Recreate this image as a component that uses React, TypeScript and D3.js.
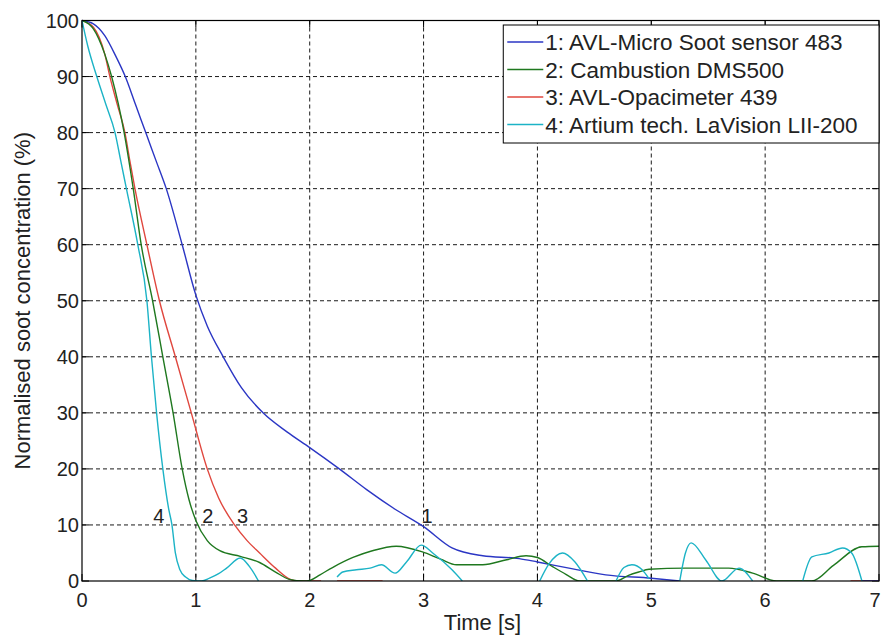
import React from 'react'
import * as d3 from 'd3'

const W = 882
const H = 638
const margin = { top: 20.5, right: 3, bottom: 57, left: 82 }

type Pt = [number, number | null]

// 1: AVL-Micro Soot sensor 483
const microSoot: Pt[] = [
  [0, 100], [0.1, 99.4], [0.2, 97.3], [0.3, 93.5], [0.38, 90], [0.47, 85], [0.56, 80],
  [0.65, 75], [0.74, 70], [0.88, 60], [1.0, 51], [1.1, 45.5], [1.24, 40], [1.4, 34.5],
  [1.59, 30], [1.8, 26.6], [2.0, 23.8], [2.26, 20], [2.5, 16.3], [2.75, 12.8], [3.0, 9.7],
  [3.25, 5.9], [3.52, 4.5], [3.84, 4.0], [4.0, 3.4], [4.3, 2.2], [4.6, 1.1], [5.0, 0.5],
  [5.25, 0], [5.3, null], [6.85, 0], [7, 0]
]

// 2: Cambustion DMS500
const cambustion: Pt[] = [
  [0, 100], [0.1, 98.5], [0.2, 94], [0.26, 90], [0.37, 80], [0.45, 70], [0.52, 60],
  [0.62, 50], [0.71, 40], [0.8, 30], [0.88, 20], [0.94, 14.5], [1.0, 10.8], [1.1, 7.2],
  [1.21, 5.4], [1.39, 4.4], [1.56, 3.3], [1.7, 1.6], [1.82, 0.3], [1.95, 0], [2.0, 0.1],
  [2.09, 1.1], [2.2, 2.4], [2.38, 4.2], [2.55, 5.4], [2.76, 6.2], [2.99, 5.2], [3.15, 3.9],
  [3.29, 2.9], [3.52, 2.9], [3.73, 3.8], [3.9, 4.5], [4.0, 4.2], [4.13, 2.6], [4.25, 1.2],
  [4.37, 0], [4.69, 0], [4.8, 1.0], [4.89, 1.6], [4.98, 2.1], [5.3, 2.3], [5.68, 2.3],
  [5.89, 1.4], [6.1, 0], [6.41, 0], [6.6, 2.8], [6.85, 6.1], [7, 6.2]
]

// 3: AVL-Opacimeter 439
const opacimeter: Pt[] = [
  [0, 100], [0.1, 98.8], [0.2, 94], [0.245, 90], [0.31, 85], [0.377, 80], [0.42, 75],
  [0.465, 70], [0.57, 60], [0.68, 50], [0.82, 40], [0.96, 30], [1.1, 20], [1.2, 14.8],
  [1.34, 10], [1.45, 7.2], [1.56, 5], [1.7, 2.3], [1.83, 0.3], [1.9, 0], [2.1, 0],
  [2.15, null], [2.24, 0], [2.64, 0], [2.7, null], [6.75, 0], [7, 0]
]

// 4: Artium tech. LaVision LII-200
const lavision: Pt[] = [
  [0, 100], [0.05, 95.5], [0.13, 90], [0.21, 85], [0.29, 80], [0.34, 75], [0.39, 70],
  [0.49, 60], [0.57, 50], [0.61, 40], [0.655, 30], [0.71, 20], [0.76, 13], [0.79, 10],
  [0.82, 5], [0.86, 2], [0.91, 0.7], [0.97, 0.1], [1.05, 0], [1.12, 0.5], [1.2, 1.3],
  [1.27, 2.3], [1.39, 4.1], [1.47, 2.6], [1.55, 0], [1.6, null],
  [2.24, 0.7], [2.29, 1.6], [2.41, 2.0], [2.53, 2.3], [2.63, 2.9], [2.75, 1.4], [2.85, 3.4],
  [2.98, 6.4], [3.08, 5.0], [3.25, 2.0], [3.34, 0], [3.4, null],
  [4.02, 0], [4.1, 3.0], [4.22, 5.0], [4.33, 3.4], [4.44, 0], [4.5, null],
  [4.69, 0], [4.76, 2.4], [4.83, 2.9], [4.92, 2.0], [4.98, 0.4], [5.05, null],
  [5.25, 0], [5.3, 5.0], [5.35, 6.8], [5.48, 3.7], [5.62, 0], [5.77, 2.3], [5.89, 0], [5.95, null],
  [6.33, 0], [6.41, 4.3], [6.56, 5.0], [6.68, 5.9], [6.76, 5.0], [6.85, 0]
]

const seriesData = [opacimeter, microSoot, cambustion, lavision]
const seriesOrder = [2, 0, 1, 3] // legend entry of each drawn series
const legendNames = [
  '1: AVL-Micro Soot sensor 483',
  '2: Cambustion DMS500',
  '3: AVL-Opacimeter 439',
  '4: Artium tech. LaVision LII-200'
]
const legendColors = ['#2b36c4', '#1f781f', '#e0473e', '#1cb3c6']

const timeTicks = [0, 1, 2, 3, 4, 5, 6, 7]
const concTicks = [0, 10, 20, 30, 40, 50, 60, 70, 80, 90, 100]

// curve number labels, placed in data units
const curveLabels = [
  { text: '4', t: 0.675, v: 10.3 },
  { text: '2', t: 1.105, v: 10.3 },
  { text: '3', t: 1.41, v: 10.3 },
  { text: '1', t: 3.03, v: 10.3 }
]

const font = '"Liberation Sans", Arial, sans-serif'

const App = () => {
  const width = W - margin.left - margin.right
  const height = H - margin.top - margin.bottom

  const x = d3.scaleLinear().domain([0, 7]).range([0, width])
  const y = d3.scaleLinear().domain([0, 100]).range([height, 0])

  const line = d3
    .line<Pt>()
    .defined(d => d[1] != null)
    .x(d => x(d[0]))
    .y(d => y(d[1] as number))
    .curve(d3.curveMonotoneX)

  const tickLen = 7
  const legendX = x(3.7)

  return (
    <svg
      width={W}
      height={H}
      style={{ position: 'absolute', left: 0, top: 0, background: '#fff' }}
      fontFamily={font}
    >
      <defs>
        <clipPath id="plotclip">
          <rect x={0} y={-2} width={width} height={height + 2} />
        </clipPath>
      </defs>
      <g transform={`translate(${margin.left},${margin.top})`}>
        {/* grid */}
        {timeTicks.slice(1, -1).map(t => (
          <line key={'gx' + t} x1={x(t)} x2={x(t)} y1={0} y2={height}
            stroke="#000" strokeWidth={0.9} strokeDasharray="4,3" />
        ))}
        {concTicks.slice(1, -1).map(v => (
          <line key={'gy' + v} x1={0} x2={width} y1={y(v)} y2={y(v)}
            stroke="#000" strokeWidth={0.9} strokeDasharray="4,3" />
        ))}

        {/* ticks, inward on all four sides */}
        {timeTicks.map(t => (
          <g key={'tx' + t}>
            <line x1={x(t)} x2={x(t)} y1={height} y2={height - tickLen} stroke="#000" />
            <line x1={x(t)} x2={x(t)} y1={0} y2={tickLen} stroke="#000" />
            <text x={t === 7 ? x(t) - 4 : x(t)} y={height + 26} textAnchor="middle" fontSize={20} fill="#222">{t}</text>
          </g>
        ))}
        {concTicks.map(v => (
          <g key={'ty' + v}>
            <line x1={0} x2={tickLen} y1={y(v)} y2={y(v)} stroke="#000" />
            <line x1={width} x2={width - tickLen} y1={y(v)} y2={y(v)} stroke="#000" />
            <text x={-3} y={y(v) + 7} textAnchor="end" fontSize={20} fill="#222">{v}</text>
          </g>
        ))}

        {/* series */}
        <g clipPath="url(#plotclip)">
          {seriesData.map((d, i) => (
            <path key={'s' + i} d={line(d) || ''} fill="none"
              stroke={legendColors[seriesOrder[i]]} strokeWidth={1.4} />
          ))}
        </g>

        {/* frame */}
        <rect x={0} y={0} width={width} height={height} fill="none" stroke="#000" strokeWidth={1.2} />

        {curveLabels.map(l => (
          <text key={'cl' + l.text} x={x(l.t)} y={y(l.v)} textAnchor="middle" fontSize={20} fill="#222">
            {l.text}
          </text>
        ))}

        {/* axis titles */}
        <text x={width / 2 + 2} y={height + 49} textAnchor="middle" fontSize={22} fill="#222">Time [s]</text>
        <text transform={`translate(${-margin.left + 30},${height / 2}) rotate(-90)`}
          textAnchor="middle" fontSize={22} fill="#222">
          Normalised soot concentration (%)
        </text>

        {/* legend */}
        <g transform={`translate(${legendX},${4.5})`}>
          <rect x={0} y={0} width={width - legendX} height={118} fill="#fff" stroke="#000" strokeWidth={1} />
          {legendNames.map((name, i) => (
            <g key={'lg' + i} transform={`translate(0,${25 + i * 27.5})`}>
              <line x1={4} x2={40} y1={-8} y2={-8} stroke={legendColors[i]} strokeWidth={1.4} />
              <text x={42} y={0} fontSize={22.5} fill="#222">{name}</text>
            </g>
          ))}
        </g>
      </g>
    </svg>
  )
}

export default App
